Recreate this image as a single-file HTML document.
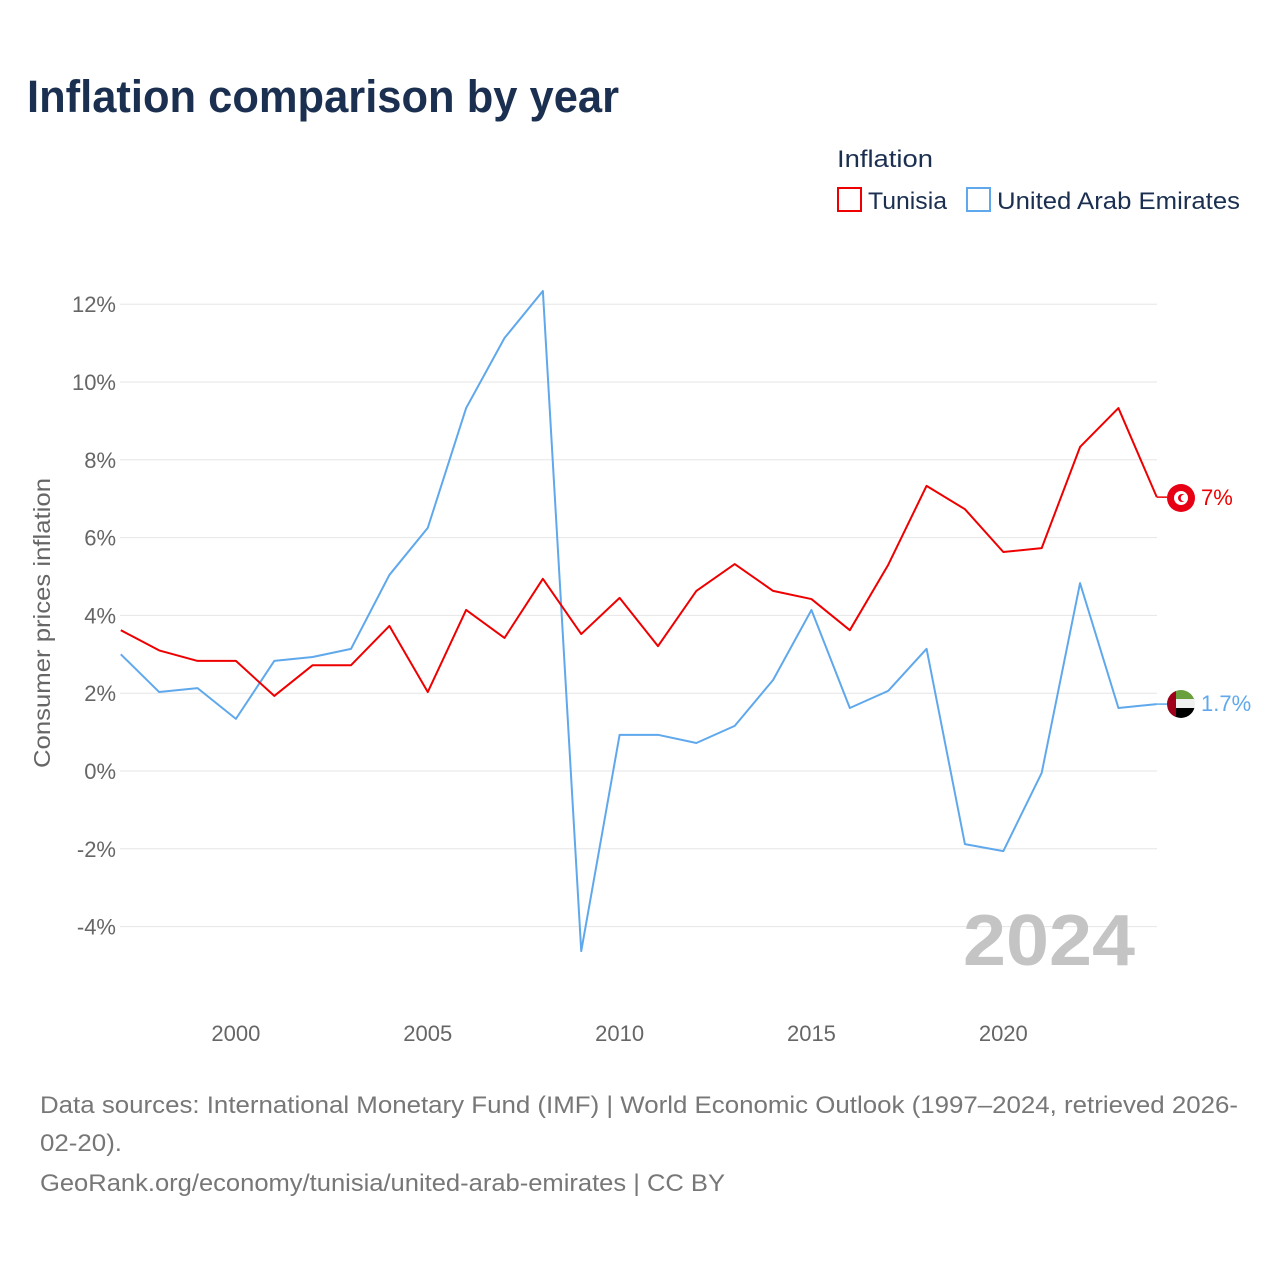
<!DOCTYPE html>
<html><head><meta charset="utf-8"><style>
body{margin:0;background:#fff;font-family:"Liberation Sans",sans-serif;}
</style></head><body>
<svg id="c" width="1280" height="1280" xmlns="http://www.w3.org/2000/svg" style="font-family:'Liberation Sans',sans-serif">
<text x="27" y="112" font-size="45" font-weight="bold" fill="#1b2f50" textLength="592" lengthAdjust="spacingAndGlyphs">Inflation comparison by year</text>
<text x="837" y="167" font-size="24" fill="#1b2f50" textLength="96" lengthAdjust="spacingAndGlyphs">Inflation</text>
<g><rect x="838" y="188" width="23" height="23" fill="none" stroke="#ee0000" stroke-width="2"/><text x="868" y="209" font-size="24" fill="#1b2f50" textLength="79" lengthAdjust="spacingAndGlyphs">Tunisia</text></g>
<g><rect x="967" y="188" width="23" height="23" fill="none" stroke="#5fa8ec" stroke-width="2"/><text x="997" y="209" font-size="24" fill="#1b2f50" textLength="243" lengthAdjust="spacingAndGlyphs">United Arab Emirates</text></g>
<g id="grid"></g><g id="yt"></g><g id="xt"></g><g id="lines"></g>
<text transform="translate(50,623) rotate(-90)" text-anchor="middle" font-size="23" fill="#666" textLength="290" lengthAdjust="spacingAndGlyphs">Consumer prices inflation</text>
<text x="963" y="965" font-size="72" font-weight="bold" fill="#c4c4c4" textLength="172" lengthAdjust="spacingAndGlyphs">2024</text>
<g><circle cx="1181" cy="498" r="14" fill="#e70013"/><circle cx="1181" cy="498" r="7" fill="#fff"/><circle cx="1182" cy="498" r="4" fill="#e70013"/><circle cx="1184" cy="498" r="3.3" fill="#fff"/></g>
<text x="1201" y="505" font-size="22" fill="#ee0000">7%</text>
<g><clipPath id="fc"><circle cx="1181" cy="704" r="14"/></clipPath><g clip-path="url(#fc)"><rect x="1167" y="690" width="28" height="10" fill="#6a9f3e"/><rect x="1167" y="699" width="28" height="10" fill="#f0f0f0"/><rect x="1167" y="708" width="28" height="10" fill="#000"/><rect x="1167" y="690" width="9" height="28" fill="#a0001a"/></g></g>
<text x="1201" y="711" font-size="22" fill="#5fa8ec">1.7%</text>
<text x="40" y="1113" font-size="24" fill="#777" textLength="1198" lengthAdjust="spacingAndGlyphs">Data sources: International Monetary Fund (IMF) | World Economic Outlook (1997–2024, retrieved 2026-</text>
<text x="40" y="1151" font-size="24" fill="#777" textLength="82" lengthAdjust="spacingAndGlyphs">02-20).</text>
<text x="40" y="1191" font-size="24" fill="#777" textLength="685" lengthAdjust="spacingAndGlyphs">GeoRank.org/economy/tunisia/united-arab-emirates | CC BY</text>
</svg>
<script>
const years=[1997,1998,1999,2000,2001,2002,2003,2004,2005,2006,2007,2008,2009,2010,2011,2012,2013,2014,2015,2016,2017,2018,2019,2020,2021,2022,2023,2024];
const tunisia=[3.62,3.1,2.83,2.83,1.93,2.72,2.72,3.73,2.03,4.14,3.42,4.94,3.52,4.45,3.21,4.63,5.32,4.63,4.42,3.62,5.3,7.33,6.73,5.63,5.73,8.33,9.33,7.04];
const uae=[3.0,2.03,2.13,1.34,2.83,2.93,3.14,5.04,6.25,9.33,11.13,12.34,-4.63,0.93,0.93,0.72,1.16,2.34,4.14,1.62,2.06,3.14,-1.88,-2.06,-0.05,4.83,1.62,1.72];
const yTicks=[-4,-2,0,2,4,6,8,10,12];
const xTicks=[2000,2005,2010,2015,2020];
const NS="http://www.w3.org/2000/svg";
const x=v=>120.8+(v-1997)*38.37;
const y=v=>771-v*38.9;
function mk(t,a,p){const e=document.createElementNS(NS,t);for(const k in a)e.setAttribute(k,a[k]);document.getElementById(p).appendChild(e);return e;}
yTicks.forEach(t=>{
 const l=mk('line',{x1:120,x2:1157,y1:y(t),y2:y(t),stroke:'#e6e6e6','stroke-width':1},'grid');
 
 
 const tx=mk('text',{x:116,y:y(t)+8,'text-anchor':'end','font-size':22,fill:'#666'},'yt');
 tx.textContent=t+'%';
 
 
});
xTicks.forEach(t=>{
 const tx=mk('text',{x:x(t),y:1041,'text-anchor':'middle','font-size':22,fill:'#666'},'xt');
 tx.textContent=t;
 
 
});
function line(d,c,n){
 const p=mk('polyline',{points:d.map((v,i)=>x(years[i])+','+y(v)).join(' '),fill:'none',stroke:c,'stroke-width':2,'stroke-linejoin':'round'},'lines');
 
 
 const last=d[d.length-1];
 mk('line',{x1:x(2024),x2:1167,y1:y(last),y2:y(last),stroke:c,'stroke-width':1.5},'lines');
}
line(uae,'#5fa8ec','uae-line');
line(tunisia,'#ee0000','tunisia-line');
</script>
</body></html>
